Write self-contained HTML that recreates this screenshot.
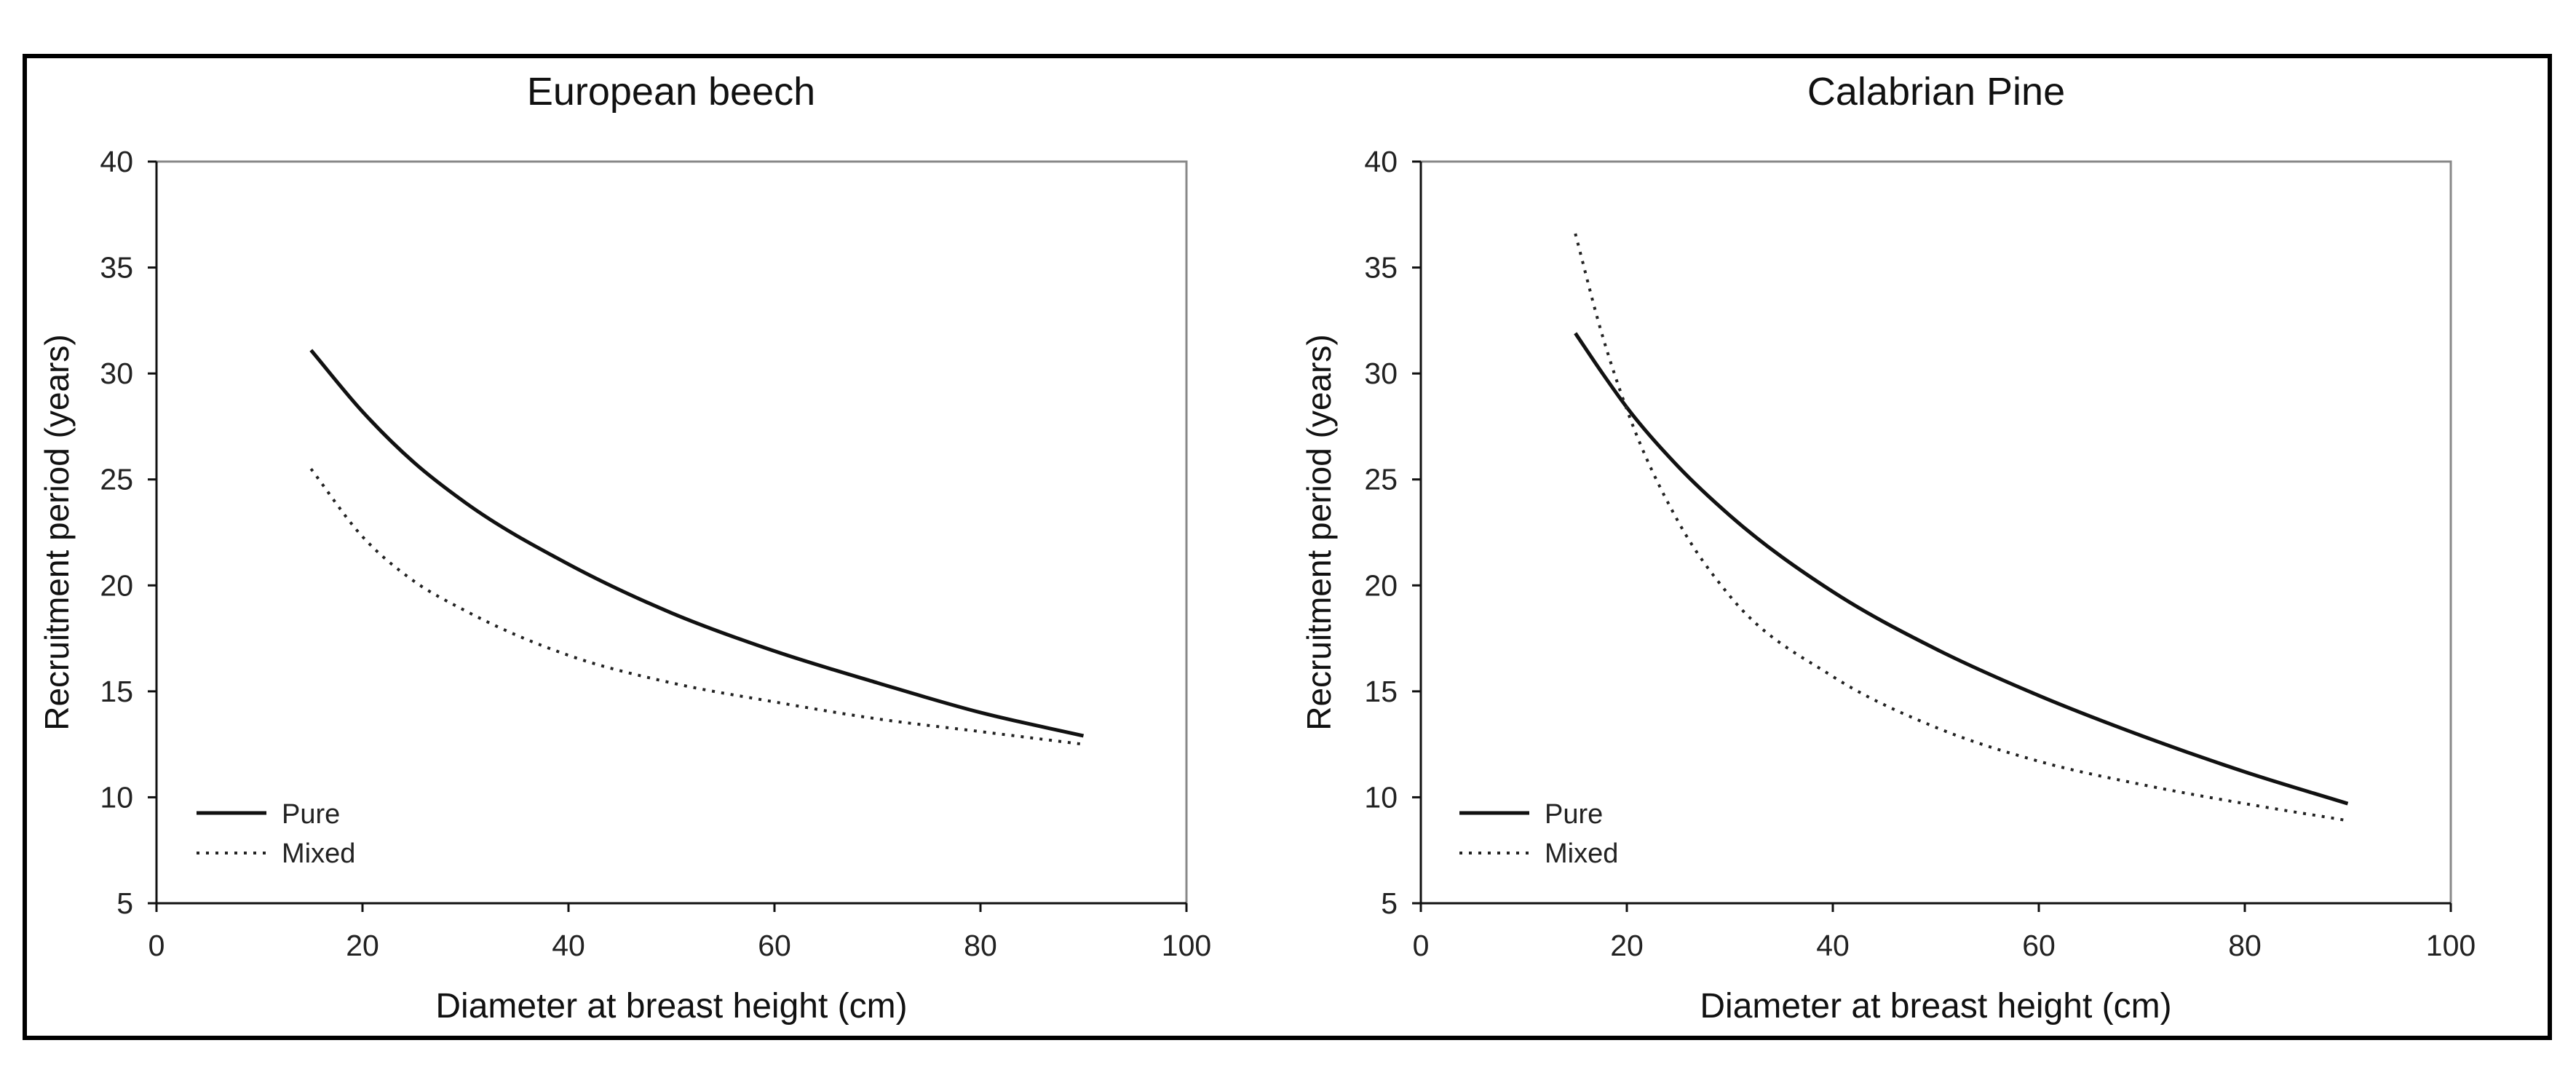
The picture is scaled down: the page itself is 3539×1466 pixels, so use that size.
<!DOCTYPE html>
<html><head><meta charset="utf-8">
<style>
html,body{margin:0;padding:0;background:#fff;}
svg{display:block;font-family:"Liberation Sans",Arial,sans-serif;}
</style></head>
<body>
<svg id="chart" width="3539" height="1466" viewBox="0 0 3539 1466">
<rect x="34" y="77" width="3469" height="1349" fill="#fff" stroke="#000" stroke-width="6"/>
</svg>
<script>
const xTicks = [0, 20, 40, 60, 80, 100];
const yTicks = [5, 10, 15, 20, 25, 30, 35, 40];
const beechX = [15, 20, 25, 30, 40, 50, 60, 70, 80, 90];
const beechPure = [31.1, 28.2, 25.8, 23.9, 21.0, 18.7, 16.9, 15.4, 14.0, 12.9];
const beechMixed = [25.5, 22.3, 20.2, 18.8, 16.7, 15.4, 14.5, 13.7, 13.1, 12.5];
const pineX = [15, 17.5, 20, 25, 30, 40, 50, 60, 70, 80, 90];
const pinePure = [31.9, 30.1, 28.4, 25.6, 23.3, 19.7, 17.0, 14.8, 12.9, 11.2, 9.7];
const pineMixed = [36.6, 32.0, 28.3, 23.0, 19.5, 15.7, 13.3, 11.7, 10.6, 9.7, 8.9];
const panelTitles = ["European beech", "Calabrian Pine"];

const NS = "http://www.w3.org/2000/svg";
const svg = document.getElementById("chart");
function mk(tag, attrs, parent) {
  const e = document.createElementNS(NS, tag);
  for (const k in attrs) e.setAttribute(k, attrs[k]);
  (parent || svg).appendChild(e);
  return e;
}
function smoothPath(pts) {
  const n = pts.length;
  const m = pts.map((p, i) => {
    if (i === 0) return (pts[1][1] - p[1]) / (pts[1][0] - p[0]);
    if (i === n - 1) return (p[1] - pts[i - 1][1]) / (p[0] - pts[i - 1][0]);
    const s0 = (p[1] - pts[i - 1][1]) / (p[0] - pts[i - 1][0]);
    const s1 = (pts[i + 1][1] - p[1]) / (pts[i + 1][0] - p[0]);
    const h0 = p[0] - pts[i - 1][0], h1 = pts[i + 1][0] - p[0];
    return (s0 * h1 + s1 * h0) / (h0 + h1);
  });
  let d = "M" + pts[0][0] + "," + pts[0][1];
  for (let i = 0; i < n - 1; i++) {
    const p1 = pts[i], p2 = pts[i + 1], h = (p2[0] - p1[0]) / 3;
    d += " C" + (p1[0] + h) + "," + (p1[1] + m[i] * h) + " " + (p2[0] - h) + "," + (p2[1] - m[i + 1] * h) + " " + p2[0] + "," + p2[1];
  }
  return d;
}
function panel(idx, x0, x1, titleX, yTitleX, legX, xs, pure, mixed) {
  const y0 = 1241, y1 = 222;
  const g = mk("g", {});
  
  
  const sx = v => x0 + (v - 0) / 100 * (x1 - x0);
  const sy = v => y0 - (v - 5) / 35 * (y0 - y1);
  const t = mk("text", {x: titleX, y: 144, "font-size": 54, "text-anchor": "middle", fill: "#111"}, g);
  t.textContent = panelTitles[idx];
  
  
  const box = mk("path", {d: `M${x0},${y1} H${x1} V${y0}`, fill: "none", stroke: "#888", "stroke-width": 3}, g);
  
  
  const xa = mk("line", {x1: x0, y1: y0, x2: x1, y2: y0, stroke: "#111", "stroke-width": 3}, g);
  
  
  const ya = mk("line", {x1: x0, y1: y0, x2: x0, y2: y1, stroke: "#111", "stroke-width": 3}, g);
  
  
  xTicks.forEach(v => {
    const tk = mk("line", {x1: sx(v), y1: y0, x2: sx(v), y2: y0 + 12, stroke: "#111", "stroke-width": 3}, g);
    
    
    const l = mk("text", {x: sx(v), y: y0 + 72, "font-size": 41, "text-anchor": "middle", fill: "#222"}, g);
    l.textContent = v;
    
    
  });
  yTicks.forEach(v => {
    const tk = mk("line", {x1: x0 - 12, y1: sy(v), x2: x0, y2: sy(v), stroke: "#111", "stroke-width": 3}, g);
    
    
    const l = mk("text", {x: x0 - 32, y: sy(v) + 14, "font-size": 41, "text-anchor": "end", fill: "#222"}, g);
    l.textContent = v;
    
    
  });
  const xt = mk("text", {x: (x0 + x1) / 2, y: 1398, "font-size": 48, "text-anchor": "middle", fill: "#111"}, g);
  xt.textContent = "Diameter at breast height (cm)";
  
  
  const yt = mk("text", {x: 0, y: 0, "font-size": 46, "text-anchor": "middle", fill: "#111", transform: `translate(${yTitleX},${(y0 + y1) / 2}) rotate(-90)`}, g);
  yt.textContent = "Recruitment period (years)";
  
  
  const pp = mk("path", {d: smoothPath(xs.map((x, i) => [sx(x), sy(pure[i])])), fill: "none", stroke: "#111", "stroke-width": 5}, g);
  
  
  const mp = mk("path", {d: smoothPath(xs.map((x, i) => [sx(x), sy(mixed[i])])), fill: "none", stroke: "#222", "stroke-width": 4, "stroke-dasharray": "4 9"}, g);
  
  
  const l1 = mk("line", {x1: legX, y1: 1117, x2: legX + 96, y2: 1117, stroke: "#111", "stroke-width": 5}, g);
  
  
  const lt1 = mk("text", {x: legX + 117, y: 1131, "font-size": 38, fill: "#222"}, g);
  lt1.textContent = "Pure";
  
  
  const l2 = mk("line", {x1: legX, y1: 1172, x2: legX + 96, y2: 1172, stroke: "#222", "stroke-width": 4, "stroke-dasharray": "4 9"}, g);
  
  
  const lt2 = mk("text", {x: legX + 117, y: 1185, "font-size": 38, fill: "#222"}, g);
  lt2.textContent = "Mixed";
  
  
}
panel(0, 215, 1630, 922, 94, 270, beechX, beechPure, beechMixed);
panel(1, 1952, 3367, 2660, 1828, 2005, pineX, pinePure, pineMixed);
</script>
</body></html>
